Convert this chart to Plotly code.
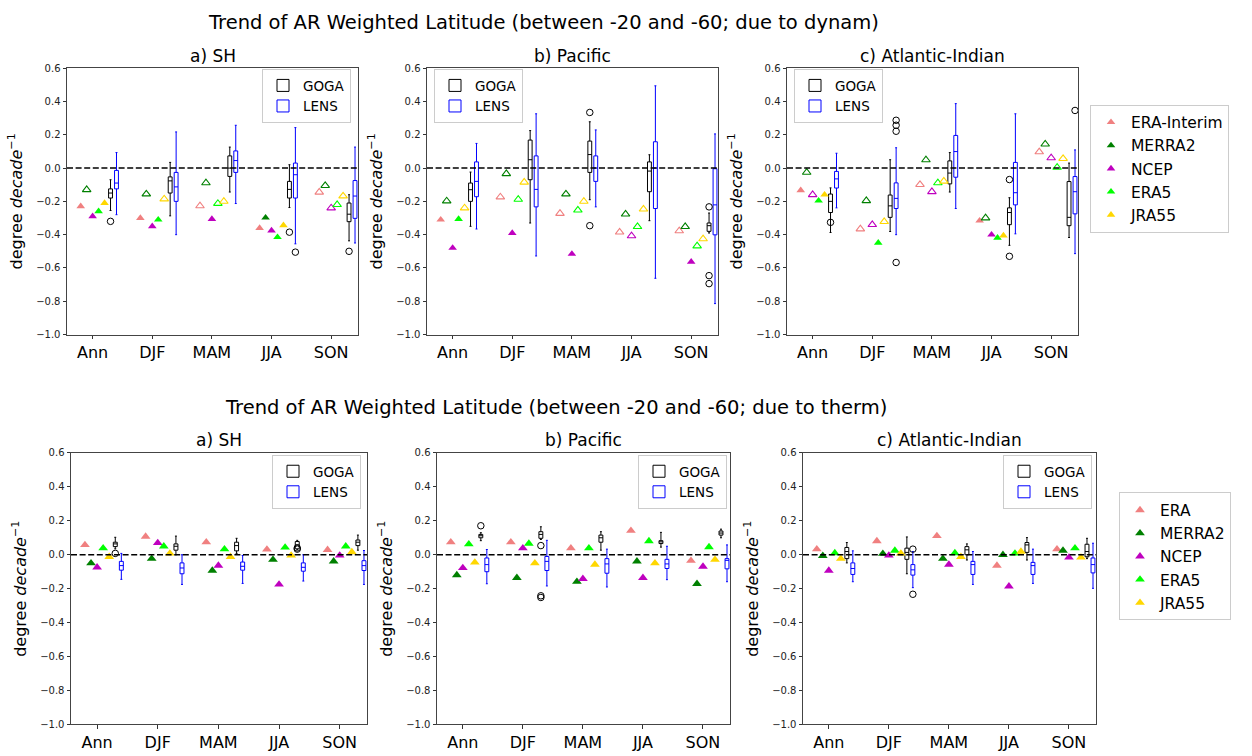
import plotly.graph_objects as go

# ---------------- data ----------------
seasons = ["Ann", "DJF", "MAM", "JJA", "SON"]
rean_names_dynam = ["ERA-Interim", "MERRA2", "NCEP", "ERA5", "JRA55"]
rean_names_therm = ["ERA", "MERRA2", "NCEP", "ERA5", "JRA55"]
rean_colors = ["#F08080", "#008000", "#BF00BF", "#00FF00", "#FFD700"]
panel_titles = ["a) SH", "b) Pacific", "c) Atlantic-Indian"]
row_titles = ["Trend of AR Weighted Latitude (between -20 and -60; due to dynam)",
              "Trend of AR Weighted Latitude (between -20 and -60; due to therm)"]
y_ticks = [-1.0, -0.8, -0.6, -0.4, -0.2, 0.0, 0.2, 0.4, 0.6]

# ---- dynamic, SH ----  rows = reanalysis (ERA-I, MERRA2, NCEP, ERA5, JRA55), cols = season
dyn_sh_rean = [[-0.23, -0.30, -0.227, -0.36, -0.145],
               [-0.13, -0.156, -0.089, -0.298, -0.105],
               [-0.29, -0.35, -0.306, -0.375, -0.24],
               [-0.26, -0.31, -0.213, -0.415, -0.22],
               [-0.21, -0.186, -0.20, -0.344, -0.168]]
dyn_sh_sig = [[1, 1, 0, 1, 0], [0, 0, 0, 1, 0], [1, 1, 1, 1, 0], [1, 1, 0, 1, 0], [1, 0, 0, 1, 0]]
dyn_sh_goga_upper = [-0.07, 0.034, 0.126, 0.02, -0.16]
dyn_sh_goga_q3 = [-0.125, -0.053, 0.073, -0.08, -0.21]
dyn_sh_goga_med = [-0.15, -0.077, 0.0, -0.128, -0.277]
dyn_sh_goga_q1 = [-0.18, -0.15, -0.05, -0.18, -0.322]
dyn_sh_goga_lower = [-0.255, -0.287, -0.144, -0.237, -0.437]
dyn_sh_goga_out_season = [0, 3, 4]
dyn_sh_goga_out_value = [-0.32, -0.385, -0.50]
dyn_sh_lens_upper = [0.093, 0.217, 0.257, 0.243, 0.126]
dyn_sh_lens_q3 = [-0.014, -0.026, 0.103, 0.03, -0.075]
dyn_sh_lens_med = [-0.09, -0.113, 0.045, -0.04, -0.168]
dyn_sh_lens_q1 = [-0.125, -0.20, -0.026, -0.18, -0.302]
dyn_sh_lens_lower = [-0.28, -0.40, -0.213, -0.455, -0.45]
dyn_sh_lens_out_season = [3]
dyn_sh_lens_out_value = [-0.505]

# ---- dynamic, Pacific ----
dyn_pac_rean = [[-0.31, -0.174, -0.273, -0.385, -0.377],
                [-0.198, -0.034, -0.156, -0.277, -0.352],
                [-0.48, -0.39, -0.516, -0.407, -0.563],
                [-0.306, -0.188, -0.253, -0.352, -0.468],
                [-0.24, -0.085, -0.20, -0.247, -0.425]]
dyn_pac_sig = [[1, 0, 0, 0, 0], [0, 0, 0, 0, 0], [1, 1, 1, 0, 1], [1, 0, 0, 0, 0], [0, 0, 0, 0, 0]]
dyn_pac_goga_upper = [-0.024, 0.225, 0.278, 0.08, -0.27]
dyn_pac_goga_q3 = [-0.09, 0.168, 0.162, 0.037, -0.33]
dyn_pac_goga_med = [-0.13, 0.05, 0.081, -0.018, -0.346]
dyn_pac_goga_q1 = [-0.20, -0.07, -0.026, -0.142, -0.38]
dyn_pac_goga_lower = [-0.35, -0.33, -0.19, -0.316, -0.39]
dyn_pac_goga_out_season = [2, 2, 4, 4, 4]
dyn_pac_goga_out_value = [0.334, -0.346, -0.233, -0.646, -0.694]
dyn_pac_lens_upper = [0.148, 0.326, 0.229, 0.494, 0.205]
dyn_pac_lens_q3 = [0.037, 0.073, 0.073, 0.158, -0.004]
dyn_pac_lens_med = [-0.08, -0.128, 0.0, 0.0, -0.221]
dyn_pac_lens_q1 = [-0.172, -0.233, -0.08, -0.243, -0.401]
dyn_pac_lens_lower = [-0.366, -0.528, -0.233, -0.662, -0.814]
dyn_pac_lens_out_season = []
dyn_pac_lens_out_value = []

# ---- dynamic, Atlantic-Indian ----
dyn_atl_rean = [[-0.134, -0.366, -0.099, -0.316, 0.097],
                [-0.026, -0.196, 0.049, -0.30, 0.144],
                [-0.16, -0.34, -0.142, -0.40, 0.061],
                [-0.196, -0.449, -0.089, -0.419, 0.004],
                [-0.16, -0.322, -0.079, -0.405, 0.057]]
dyn_atl_sig = [[1, 0, 0, 1, 0], [0, 0, 0, 0, 0], [0, 0, 0, 1, 0], [1, 1, 0, 1, 0], [1, 0, 0, 1, 0]]
dyn_atl_goga_upper = [-0.119, 0.05, 0.093, -0.178, 0.03]
dyn_atl_goga_q3 = [-0.156, -0.162, 0.043, -0.239, -0.081]
dyn_atl_goga_med = [-0.20, -0.227, -0.03, -0.267, -0.296]
dyn_atl_goga_q1 = [-0.267, -0.296, -0.095, -0.34, -0.346]
dyn_atl_goga_lower = [-0.387, -0.381, -0.144, -0.464, -0.417]
dyn_atl_goga_out_season = [0, 3, 3]
dyn_atl_goga_out_value = [-0.326, -0.069, -0.53]
dyn_atl_lens_upper = [0.089, 0.122, 0.387, 0.326, 0.109]
dyn_atl_lens_q3 = [-0.02, -0.089, 0.196, 0.034, -0.051]
dyn_atl_lens_med = [-0.065, -0.182, 0.099, -0.148, -0.142]
dyn_atl_lens_q1 = [-0.12, -0.243, -0.055, -0.221, -0.275]
dyn_atl_lens_lower = [-0.239, -0.40, -0.243, -0.395, -0.514]
dyn_atl_lens_out_season = [1, 1, 1, 1, 4]
dyn_atl_lens_out_value = [0.287, 0.257, 0.221, -0.567, 0.346]

# ---- thermodynamic, SH ----
thm_sh_rean = [[0.058, 0.107, 0.074, 0.031, 0.029],
               [-0.05, -0.023, -0.093, -0.029, -0.039],
               [-0.074, 0.07, -0.064, -0.175, -0.004],
               [0.039, 0.05, 0.033, 0.043, 0.05],
               [-0.012, 0.008, -0.012, -0.004, 0.016]]
thm_sh_sig = [[1] * 5 for _ in range(5)]
thm_sh_goga_upper = [0.103, 0.11, 0.097, 0.085, 0.116]
thm_sh_goga_q3 = [0.074, 0.064, 0.074, 0.078, 0.087]
thm_sh_goga_med = [0.064, 0.05, 0.054, 0.058, 0.074]
thm_sh_goga_q1 = [0.048, 0.027, 0.023, 0.035, 0.054]
thm_sh_goga_lower = [0.035, 0.0, 0.008, 0.029, 0.027]
thm_sh_goga_out_season = [0, 3, 3]
thm_sh_goga_out_value = [0.008, 0.04, 0.033]
thm_sh_lens_upper = [0.008, 0.0, -0.004, 0.0, 0.025]
thm_sh_lens_q3 = [-0.039, -0.048, -0.043, -0.048, -0.035]
thm_sh_lens_med = [-0.064, -0.078, -0.068, -0.074, -0.064]
thm_sh_lens_q1 = [-0.091, -0.112, -0.091, -0.097, -0.093]
thm_sh_lens_lower = [-0.145, -0.175, -0.169, -0.155, -0.175]
thm_sh_lens_out_season = []
thm_sh_lens_out_value = []

# ---- thermodynamic, Pacific ----
thm_pac_rean = [[0.074, 0.074, 0.039, 0.142, -0.035],
                [-0.12, -0.136, -0.159, -0.039, -0.171],
                [-0.078, 0.039, -0.142, -0.136, -0.07],
                [0.062, 0.066, 0.039, 0.081, 0.045],
                [-0.045, -0.05, -0.058, -0.05, -0.029]]
thm_pac_sig = [[1] * 5 for _ in range(5)]
thm_pac_goga_upper = [0.13, 0.165, 0.136, 0.132, 0.151]
thm_pac_goga_q3 = [0.12, 0.136, 0.116, 0.083, 0.14]
thm_pac_goga_med = [0.112, 0.12, 0.10, 0.076, 0.128]
thm_pac_goga_q1 = [0.10, 0.097, 0.074, 0.066, 0.116]
thm_pac_goga_lower = [0.083, 0.09, 0.027, 0.045, 0.10]
thm_pac_goga_out_season = [0, 1, 1, 1]
thm_pac_goga_out_value = [0.171, 0.054, -0.242, -0.252]
thm_pac_lens_upper = [0.031, 0.085, 0.033, 0.05, 0.058]
thm_pac_lens_q3 = [-0.019, -0.01, -0.023, -0.027, -0.023]
thm_pac_lens_med = [-0.058, -0.039, -0.054, -0.054, -0.033]
thm_pac_lens_q1 = [-0.10, -0.093, -0.109, -0.081, -0.083]
thm_pac_lens_lower = [-0.171, -0.184, -0.19, -0.147, -0.159]
thm_pac_lens_out_season = []
thm_pac_lens_out_value = []

# ---- thermodynamic, Atlantic-Indian ----
thm_atl_rean = [[0.033, 0.081, 0.111, -0.064, 0.033],
                [-0.006, 0.006, -0.023, 0.0, 0.025],
                [-0.093, -0.004, -0.058, -0.186, -0.016],
                [0.01, 0.025, 0.01, 0.008, 0.039],
                [-0.023, 0.008, -0.012, 0.019, -0.016]]
thm_atl_sig = [[1] * 5 for _ in range(5)]
thm_atl_goga_upper = [0.072, 0.105, 0.064, 0.101, 0.097]
thm_atl_goga_q3 = [0.043, 0.039, 0.048, 0.072, 0.062]
thm_atl_goga_med = [0.019, 0.014, 0.029, 0.058, 0.019]
thm_atl_goga_q1 = [-0.023, -0.027, 0.0, 0.014, -0.012]
thm_atl_goga_lower = [-0.048, -0.112, -0.031, -0.031, -0.023]
thm_atl_goga_out_season = []
thm_atl_goga_out_value = []
thm_atl_lens_upper = [0.023, 0.019, 0.019, 0.033, 0.068]
thm_atl_lens_q3 = [-0.048, -0.058, -0.039, -0.045, -0.019]
thm_atl_lens_med = [-0.081, -0.089, -0.058, -0.064, -0.058]
thm_atl_lens_q1 = [-0.116, -0.12, -0.116, -0.116, -0.107]
thm_atl_lens_lower = [-0.159, -0.194, -0.175, -0.169, -0.198]
thm_atl_lens_out_season = [1, 1]
thm_atl_lens_out_value = [0.033, -0.233]

# ---------------- layout helpers ----------------
W, H = 1252, 756
FONT = "DejaVu Sans, Arial, sans-serif"
rean_offsets = [-0.2, -0.1, 0.0, 0.1, 0.2]
goga_off, lens_off = 0.3, 0.4

panels = [
    dict(rean=dyn_sh_rean, sig=dyn_sh_sig,
         goga=(dyn_sh_goga_lower, dyn_sh_goga_q1, dyn_sh_goga_med, dyn_sh_goga_q3, dyn_sh_goga_upper),
         goga_out=(dyn_sh_goga_out_season, dyn_sh_goga_out_value),
         lens=(dyn_sh_lens_lower, dyn_sh_lens_q1, dyn_sh_lens_med, dyn_sh_lens_q3, dyn_sh_lens_upper),
         lens_out=(dyn_sh_lens_out_season, dyn_sh_lens_out_value)),
    dict(rean=dyn_pac_rean, sig=dyn_pac_sig,
         goga=(dyn_pac_goga_lower, dyn_pac_goga_q1, dyn_pac_goga_med, dyn_pac_goga_q3, dyn_pac_goga_upper),
         goga_out=(dyn_pac_goga_out_season, dyn_pac_goga_out_value),
         lens=(dyn_pac_lens_lower, dyn_pac_lens_q1, dyn_pac_lens_med, dyn_pac_lens_q3, dyn_pac_lens_upper),
         lens_out=(dyn_pac_lens_out_season, dyn_pac_lens_out_value)),
    dict(rean=dyn_atl_rean, sig=dyn_atl_sig,
         goga=(dyn_atl_goga_lower, dyn_atl_goga_q1, dyn_atl_goga_med, dyn_atl_goga_q3, dyn_atl_goga_upper),
         goga_out=(dyn_atl_goga_out_season, dyn_atl_goga_out_value),
         lens=(dyn_atl_lens_lower, dyn_atl_lens_q1, dyn_atl_lens_med, dyn_atl_lens_q3, dyn_atl_lens_upper),
         lens_out=(dyn_atl_lens_out_season, dyn_atl_lens_out_value)),
    dict(rean=thm_sh_rean, sig=thm_sh_sig,
         goga=(thm_sh_goga_lower, thm_sh_goga_q1, thm_sh_goga_med, thm_sh_goga_q3, thm_sh_goga_upper),
         goga_out=(thm_sh_goga_out_season, thm_sh_goga_out_value),
         lens=(thm_sh_lens_lower, thm_sh_lens_q1, thm_sh_lens_med, thm_sh_lens_q3, thm_sh_lens_upper),
         lens_out=(thm_sh_lens_out_season, thm_sh_lens_out_value)),
    dict(rean=thm_pac_rean, sig=thm_pac_sig,
         goga=(thm_pac_goga_lower, thm_pac_goga_q1, thm_pac_goga_med, thm_pac_goga_q3, thm_pac_goga_upper),
         goga_out=(thm_pac_goga_out_season, thm_pac_goga_out_value),
         lens=(thm_pac_lens_lower, thm_pac_lens_q1, thm_pac_lens_med, thm_pac_lens_q3, thm_pac_lens_upper),
         lens_out=(thm_pac_lens_out_season, thm_pac_lens_out_value)),
    dict(rean=thm_atl_rean, sig=thm_atl_sig,
         goga=(thm_atl_goga_lower, thm_atl_goga_q1, thm_atl_goga_med, thm_atl_goga_q3, thm_atl_goga_upper),
         goga_out=(thm_atl_goga_out_season, thm_atl_goga_out_value),
         lens=(thm_atl_lens_lower, thm_atl_lens_q1, thm_atl_lens_med, thm_atl_lens_q3, thm_atl_lens_upper),
         lens_out=(thm_atl_lens_out_season, thm_atl_lens_out_value)),
]

# pixel domains of each panel (left, right, top, bottom)
px_dom = [(67, 358, 64, 334), (427, 718, 64, 334), (787, 1078, 64, 334),
          (71, 367, 454, 729), (437, 730, 454, 729), (803, 1096, 454, 729)]

# per-panel GOGA/LENS legends: (x px, y px, xanchor)
box_leg = [(351, 65, "right"), (434, 65, "left"), (794, 65, "left"),
           (361, 456, "right"), (727, 456, "right"), (1092, 456, "right")]

fig = go.Figure()
layout_upd = {}

for p, pan in enumerate(panels):
    ax = "" if p == 0 else str(p + 1)
    xa, ya = "x" + ax, "y" + ax
    lg = "legend" + ax
    rean_legend = "legend7" if p < 3 else "legend8"
    names = rean_names_dynam if p < 3 else rean_names_therm
    msize = 7.5 if p < 3 else 8.5
    # reanalysis triangles
    for r in range(5):
        vals = pan["rean"][r]
        sig = pan["sig"][r]
        for filled in (1, 0):
            xs = [s + rean_offsets[r] for s in range(5) if sig[s] == filled]
            ys = [vals[s] for s in range(5) if sig[s] == filled]
            if not xs:
                continue
            show = (p in (0, 3)) and filled == 1
            fig.add_trace(go.Scatter(
                x=xs, y=ys, mode="markers", xaxis=xa, yaxis=ya,
                name=names[r], legend=rean_legend, showlegend=show,
                legendgroup=names[r] + ("d" if p < 3 else "t"),
                hoverinfo="skip",
                marker=dict(symbol="triangle-up" if filled else "triangle-up-open",
                            size=msize, color=rean_colors[r],
                            line=dict(width=0 if filled else 1.1, color=rean_colors[r]))))
    # boxes
    for key, off, col, nm in (("goga", goga_off, "black", "GOGA"), ("lens", lens_off, "blue", "LENS")):
        lo, q1, md, q3, up = pan[key]
        fig.add_trace(go.Box(
            x=[s + off for s in range(5)], lowerfence=lo, q1=q1, median=md, q3=q3, upperfence=up,
            width=0.065, whiskerwidth=0.5, boxpoints=False, name=nm,
            line=dict(color=col, width=1), fillcolor="rgba(0,0,0,0)",
            xaxis=xa, yaxis=ya, legend=lg, showlegend=True, hoverinfo="skip"))
    for key, off in (("goga_out", goga_off), ("lens_out", lens_off)):
        ss, vv = pan[key]
        if ss:
            fig.add_trace(go.Scatter(
                x=[s + off for s in ss], y=vv, mode="markers", xaxis=xa, yaxis=ya,
                showlegend=False, hoverinfo="skip",
                marker=dict(symbol="circle-open", size=6.5, color="black", line=dict(width=1, color="black"))))
    # zero dashed line
    fig.add_shape(type="line", xref=xa + " domain", yref=ya, x0=0, x1=1, y0=0, y1=0,
                  line=dict(color="black", width=1.5, dash="6px,2.6px"), layer="above")

    l, rgt, t, b = px_dom[p]
    layout_upd["xaxis" + ax] = dict(
        domain=[l / W, rgt / W], anchor=ya, range=[-0.43, 4.45],
        tickvals=list(range(5)), ticktext=seasons, ticks="outside", ticklen=3.5,
        tickcolor="#333", showline=True, mirror=True, linecolor="#444", linewidth=1,
        showgrid=False, zeroline=False, tickfont=dict(size=16, color="black", family=FONT))
    layout_upd["yaxis" + ax] = dict(
        domain=[1 - b / H, 1 - t / H], anchor=xa, range=[-1.0, 0.6],
        tickvals=y_ticks, tickformat=".1f", ticks="outside", ticklen=3.5, tickcolor="#333",
        showline=True, mirror=True, linecolor="#444", linewidth=1,
        showgrid=False, zeroline=False, tickfont=dict(size=10, color="#222", family=FONT),
        title=dict(text="degree <i>decade</i><sup>\u22121</sup>", standoff=9,
                   font=dict(size=16, color="black", family=FONT)))
    bx, by, banc = box_leg[p]
    layout_upd[lg] = dict(x=bx / W, y=1 - by / H, xanchor=banc, yanchor="top",
                          bgcolor="white", bordercolor="#cccccc", borderwidth=1,
                          font=dict(size=13.5, family=FONT, color="black"),
                          itemwidth=30, tracegroupgap=0)

layout_upd["legend7"] = dict(x=1090 / W, y=1 - 101 / H, xanchor="left", yanchor="top",
                             bgcolor="white", bordercolor="#cccccc", borderwidth=1,
                             font=dict(size=15.5, family=FONT, color="black"), tracegroupgap=0)
layout_upd["legend8"] = dict(x=1119 / W, y=1 - 494 / H, xanchor="left", yanchor="top",
                             bgcolor="white", bordercolor="#cccccc", borderwidth=1,
                             font=dict(size=15.5, family=FONT, color="black"), tracegroupgap=0)

annotations = []
for row, (ty, sty) in enumerate(((18, 52), (408, 441))):
    cx = 543 if row == 0 else 556
    annotations.append(dict(text=row_titles[row], x=cx / W, y=1 - ty / H, xref="paper", yref="paper",
                            showarrow=False, xanchor="center", yanchor="middle",
                            font=dict(size=19.5, family=FONT, color="black")))
    for c in range(3):
        l, rgt, t, b = px_dom[row * 3 + c]
        annotations.append(dict(text=panel_titles[c], x=(l + rgt) / 2 / W, y=1 - sty / H,
                                xref="paper", yref="paper", showarrow=False,
                                xanchor="center", yanchor="middle",
                                font=dict(size=17, family=FONT, color="black")))

fig.update_layout(width=W, height=H, autosize=False, margin=dict(l=0, r=0, t=0, b=0),
                  paper_bgcolor="white", plot_bgcolor="white", boxmode="overlay",
                  font=dict(family=FONT), annotations=annotations, **layout_upd)

fig.write_html("out.html", config={"displayModeBar": False},
               post_script="document.body.style.margin='0px';document.body.style.overflow='hidden';")
